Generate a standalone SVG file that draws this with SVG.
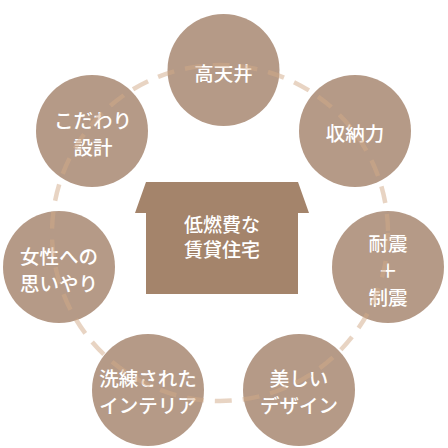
<svg xmlns="http://www.w3.org/2000/svg" width="448" height="448" viewBox="0 0 448 448">
<style>
.node circle{fill:#b59a87;}
.node text{fill:#ffffff;font-family:"Noto Sans CJK JP","Noto Sans",sans-serif;font-size:19.5px;font-weight:500;text-anchor:middle;dominant-baseline:central;}
.ring{fill:none;stroke:#d2a987;stroke-opacity:0.5;stroke-width:4.5;stroke-dasharray:17 11;}
.house path{fill:#a4846b;}
.house text{fill:#ffffff;font-family:"Noto Sans CJK JP","Noto Sans",sans-serif;font-size:19px;font-weight:500;text-anchor:middle;dominant-baseline:central;}
</style>
<rect width="448" height="448" fill="#ffffff"/>
<g id="center-house" class="house">
<path d="M146,182 L298,182 L309,213 L298,213 L298,294 L146,294 L146,213 L135,213 Z"/>
<text x="222" y="223.5">低燃費な</text>
<text x="222" y="248.5">賃貸住宅</text>
</g>
<g id="node-koutenjou" class="node"><circle cx="223.5" cy="70" r="56"/><text x="223.5" y="72">高天井</text></g>
<g id="node-shuunou" class="node"><circle cx="355" cy="131" r="56"/><text x="355" y="132">収納力</text></g>
<g id="node-taishin" class="node"><circle cx="388" cy="267" r="56"/><text x="388" y="242">耐震</text><text x="388" y="269">＋</text><text x="388" y="296">制震</text></g>
<g id="node-utsukushii" class="node"><circle cx="299" cy="390" r="56"/><text x="299" y="377">美しい</text><text x="299" y="404">デザイン</text></g>
<g id="node-senren" class="node"><circle cx="148" cy="390" r="56"/><text x="148" y="377">洗練された</text><text x="148" y="404">インテリア</text></g>
<g id="node-josei" class="node"><circle cx="59" cy="267" r="56"/><text x="59" y="255">女性への</text><text x="59" y="282">思いやり</text></g>
<g id="node-kodawari" class="node"><circle cx="92" cy="131" r="56"/><text x="93" y="119">こだわり</text><text x="93" y="146">設計</text></g>
<g id="connectors">
<circle class="ring" cx="220" cy="233" r="168"/>
</g>
</svg>
